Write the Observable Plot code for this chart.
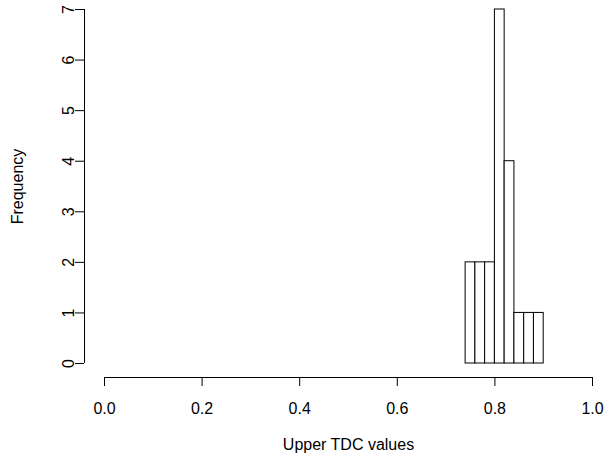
<!DOCTYPE html>
<html>
<head>
<meta charset="utf-8">
<script src="https://cdn.jsdelivr.net/npm/d3@7"></script>
<script src="https://cdn.jsdelivr.net/npm/@observablehq/plot@0.6"></script>
<style>
  html, body { margin: 0; padding: 0; background: #fff; }
</style>
</head>
<body>
<div id="chart"></div>
<script>
// Histogram bins (breaks) and counts
const binStarts = [0.74, 0.76, 0.78, 0.80, 0.82, 0.84, 0.86, 0.88];
const binEnds   = [0.76, 0.78, 0.80, 0.82, 0.84, 0.86, 0.88, 0.90];
const counts    = [2, 2, 2, 7, 4, 1, 1, 1];
const xTicks = [0, 0.2, 0.4, 0.6, 0.8, 1.0];
const yTicks = [0, 1, 2, 3, 4, 5, 6, 7];
const xTitle = "Upper TDC values";
const yTitle = "Frequency";

const bins = binStarts.map((s, i) => ({x1: s, x2: binEnds[i], count: counts[i]}));

const chart = Plot.plot({
  width: 611,
  height: 457,
  marginLeft: 104,
  marginRight: 19,
  marginTop: 9,
  marginBottom: 94,
  style: {fontFamily: "'Liberation Sans', Arial, sans-serif", fontSize: "16px", background: "#fff", color: "#000"},
  x: {domain: [0, 1]},
  y: {domain: [0, 7]},
  marks: [
    Plot.rectY(bins, {x1: "x1", x2: "x2", y: "count", fill: "white", stroke: "black", strokeWidth: 1, inset: 0}),
    // x axis line (detached below the plot region, as in base R)
    Plot.ruleY([0], {x1: 0, x2: 1, dy: 14, stroke: "black", strokeWidth: 1}),
    Plot.axisX({ticks: xTicks, tickSize: 9, dy: 14, tickPadding: 16, tickFormat: d3.format(".1f"), label: null, fontSize: 16}),
    // y axis line
    Plot.ruleX([0], {y1: 0, y2: 7, dx: -20, stroke: "black", strokeWidth: 1}),
    Plot.axisY({ticks: yTicks, tickSize: 9, dx: -20, tickRotate: -90, tickPadding: 2, tickFormat: d3.format("d"), label: null, fontSize: 16}),
    Plot.text([xTitle], {x: 0.5, y: 0, dy: 81, text: d => d, fontSize: 16}),
    Plot.text([yTitle], {x: 0, y: 3.5, dx: -87, rotate: -90, text: d => d, fontSize: 16})
  ]
});
document.getElementById("chart").appendChild(chart);
</script>
</body>
</html>
